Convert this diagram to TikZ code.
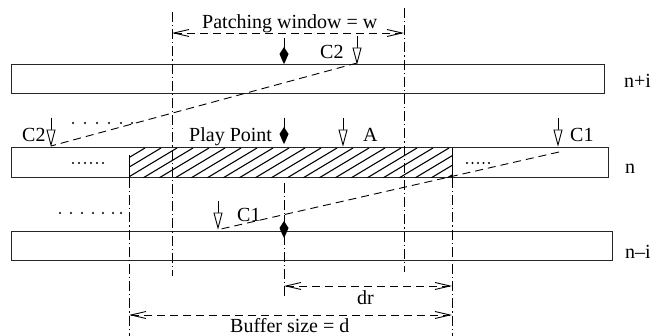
\documentclass[tikz,border=0pt]{standalone}
\usepackage{fontspec}
\setmainfont{Liberation Serif}
\usetikzlibrary{arrows.meta}
\newcommand\filledptr[2]{% x, tip y
  \draw[line width=0.9pt] (#1,#2-26) -- (#1,#2-15);
  \fill (#1,#2-17) -- (#1+4.5,#2-10) -- (#1+1.5,#2-3) -- (#1,#2) -- (#1-1.5,#2-3) -- (#1-4.5,#2-10) -- cycle;
}
\newcommand\openptr[2]{% x, tip y
  \draw[line width=0.9pt] (#1,#2-27) -- (#1,#2-15);
  \draw[line width=0.9pt, fill=white] (#1-4,#2-15) -- (#1+4,#2-15) -- (#1,#2) -- cycle;
}
\begin{document}
\begin{tikzpicture}[x=1pt,y=-1pt,
  bar/.style={draw=black!85, line width=1pt},
  dd/.style={dash pattern=on 10pt off 3pt on 1.2pt off 3pt, line width=0.9pt},
  dsh/.style={dash pattern=on 8pt off 5pt, line width=0.9pt},
  dim/.style={dsh, {Straight Barb[length=15pt,width=7pt,line width=0.9pt]}-{Straight Barb[length=15pt,width=7pt,line width=0.9pt]}},
  lbl/.style={font=\fontsize{20}{22}\selectfont, inner sep=0pt, anchor=base west},
  dotm/.style={fill=black}]
\useasboundingbox (0,0) rectangle (650,336);

% bars
\draw[bar] (11,65) rectangle (604,94);
\draw[bar] (11,148) rectangle (608,178);
\draw[bar] (11,232) rectangle (612,261);

% hatch
\begin{scope}
  \clip (129,156) -- (135,148) -- (452,148) -- (452,178) -- (129,178) -- cycle;
  \foreach \i in {0,...,25} \draw[line width=1.1pt] (79+\i*16,178) -- ++(50,-30);
\end{scope}
\draw[line width=0.9pt] (129,155) -- (129,178);
\draw[line width=0.9pt] (452,148) -- (452,178);

% vertical dash-dot lines
\coordinate (w1t) at (172,12); \coordinate (w1b) at (172,276);
\coordinate (w2t) at (404,8);  \coordinate (w2b) at (404,272);
\coordinate (b1t) at (129,178); \coordinate (b1b) at (129,336);
\coordinate (b2t) at (452,178); \coordinate (b2b) at (452,336);
\coordinate (p1t) at (284,183); \coordinate (p1b) at (284,297);
\draw[dd] (w1t) -- (w1b);
\draw[dd] (w2t) -- (w2b);
\draw[dd] (b1t) -- (b1b);
\draw[dd] (b2t) -- (b2b);
\draw[dd] (p1t) -- (p1b);

% dimension arrows
\coordinate (pwL) at (172,33); \coordinate (pwR) at (404,33);
\coordinate (drL) at (284,286); \coordinate (drR) at (452,286);
\coordinate (bsL) at (129,315); \coordinate (bsR) at (452,315);
\draw[dim] (pwL) -- (pwR);
\draw[dim] (drL) -- (drR);
\draw[dim] (bsL) -- (bsR);

% dashed diagonal lines
\coordinate (c2a) at (357,63); \coordinate (c2b) at (51,146);
\coordinate (c1a) at (559,152); \coordinate (c1b) at (221,229);
\draw[dsh] (c2a) -- (c2b);
\draw[dsh] (c1a) -- (c1b);

% pointers
\filledptr{284}{64}
\filledptr{284}{144}
\fill (284,221) -- (288.5,228) -- (285.5,235) -- (284,238) -- (282.5,235) -- (279.5,228) -- cycle;
\draw[line width=0.9pt] (284,215) -- (284,243);
\openptr{357}{63}
\openptr{51}{145}
\openptr{343}{145}
\openptr{558}{145}
\openptr{218}{228}

% dots
\foreach \x in {73,79,85,91,97,103} \fill (\x,163) circle (1.1);
\foreach \x in {467,472.5,478,483.5,489} \fill (\x,163) circle (1.1);
\foreach \x in {73,85,97,109,121,132} \fill (\x,123) circle (1.1);
\foreach \x in {60,71,82,93,103,113,121} \fill (\x,213) circle (1.1);

% labels
\node[lbl] (tpw) at (202,29) {Patching window = w};
\node[lbl] (tc2u) at (320,59) {C2};
\node[lbl] (tni) at (624,88) {n+i};
\node[lbl] (tc2l) at (22,142) {C2};
\node[lbl] (tpp) at (189,142) {Play Point};
\node[lbl] (ta) at (363,142) {A};
\node[lbl] (tc1r) at (570,142) {C1};
\node[lbl] (tn) at (625,174) {n};
\node[lbl] (tc1l) at (237,222) {C1};
\node[lbl] (tnmi) at (625,259) {n--i};
\node[lbl] (tdr) at (357,305) {dr};
\node[lbl] (tbs) at (230,333) {Buffer size = d};
\end{tikzpicture}
\end{document}
